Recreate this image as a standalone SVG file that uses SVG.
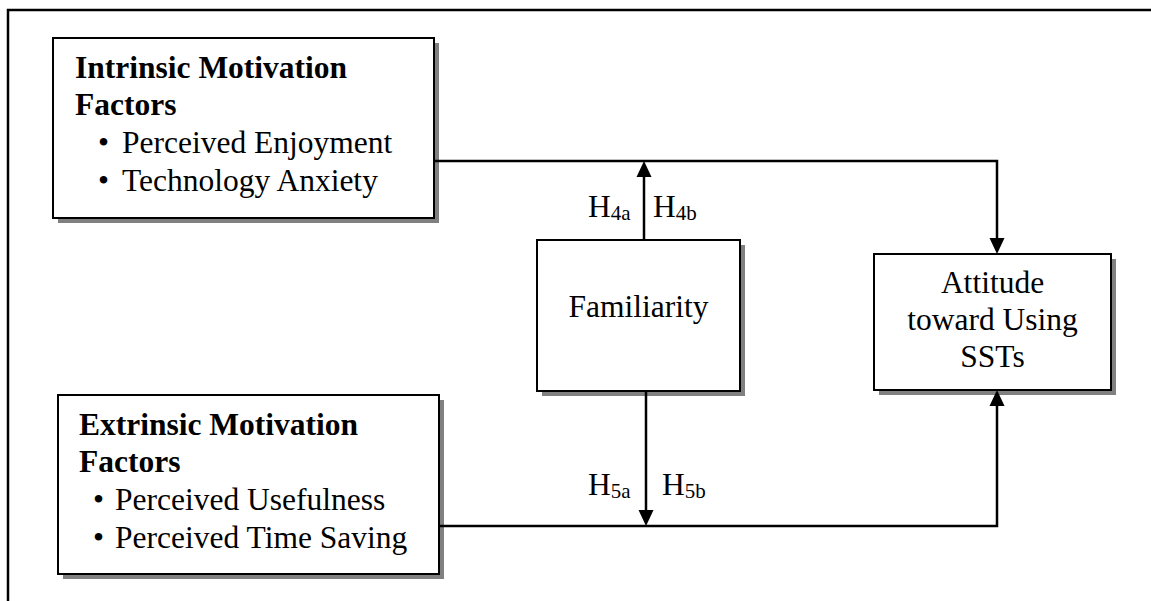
<svg xmlns="http://www.w3.org/2000/svg" width="1151" height="601" viewBox="0 0 1151 601">
<style>
.box{fill:#fff;stroke:#000;stroke-width:2}
.sh{fill:#808080}
.t{font-family:"Liberation Serif","Times New Roman",serif;font-size:31.5px;fill:#000}
.b{font-weight:bold}
.s{font-size:21px}
.ln{fill:none;stroke:#000;stroke-width:2.5}
.ah{fill:#000}
</style>
<rect width="1151" height="601" fill="#fff"/>
<path d="M8,602 V10 H1152" fill="none" stroke="#000" stroke-width="2.5"/>
<g id="intrinsic">
<rect class="sh" x="58" y="43" width="381" height="180"/>
<rect class="box" x="53" y="38" width="381" height="180"/>
<text class="t b" x="75" y="78">Intrinsic Motivation</text>
<text class="t b" x="75" y="115">Factors</text>
<text class="t" x="98" y="153">•</text><text class="t" x="122" y="153">Perceived Enjoyment</text>
<text class="t" x="98" y="191">•</text><text class="t" x="122" y="191">Technology Anxiety</text>
</g>
<g id="extrinsic">
<rect class="sh" x="63" y="400" width="381" height="179"/>
<rect class="box" x="58" y="395" width="381" height="179"/>
<text class="t b" x="79" y="435">Extrinsic Motivation</text>
<text class="t b" x="79" y="472">Factors</text>
<text class="t" x="93" y="510">•</text><text class="t" x="115" y="510">Perceived Usefulness</text>
<text class="t" x="93" y="548">•</text><text class="t" x="115" y="548">Perceived Time Saving</text>
</g>
<g id="familiarity">
<rect class="sh" x="542" y="245" width="203" height="151"/>
<rect class="box" x="537" y="240" width="203" height="151"/>
<text class="t" x="638.5" y="317" text-anchor="middle">Familiarity</text>
</g>
<g id="attitude">
<rect class="sh" x="879" y="259" width="237" height="136"/>
<rect class="box" x="874" y="254" width="237" height="136"/>
<text class="t" x="992.5" y="293" text-anchor="middle">Attitude</text>
<text class="t" x="992.5" y="330" text-anchor="middle">toward Using</text>
<text class="t" x="992.5" y="367" text-anchor="middle">SSTs</text>
</g>
<g id="connectors">
<path class="ln" d="M434,161 H997 V240"/>
<path class="ah" d="M989.5,238 L1004.5,238 L997,254 Z"/>
<path class="ln" d="M439,526 H997 V405"/>
<path class="ah" d="M989.5,406 L1004.5,406 L997,390 Z"/>
<path class="ln" d="M644,240 V175"/>
<path class="ah" d="M636.5,177 L651.5,177 L644,161 Z"/>
<path class="ln" d="M646,391 V512"/>
<path class="ah" d="M638.5,510 L653.5,510 L646,526 Z"/>
</g>
<g id="labels">
<text class="t" x="588" y="217">H<tspan class="s" dy="3">4a</tspan></text>
<text class="t" x="653" y="217">H<tspan class="s" dy="3">4b</tspan></text>
<text class="t" x="588" y="495">H<tspan class="s" dy="3">5a</tspan></text>
<text class="t" x="662" y="495">H<tspan class="s" dy="3">5b</tspan></text>
</g>
</svg>
